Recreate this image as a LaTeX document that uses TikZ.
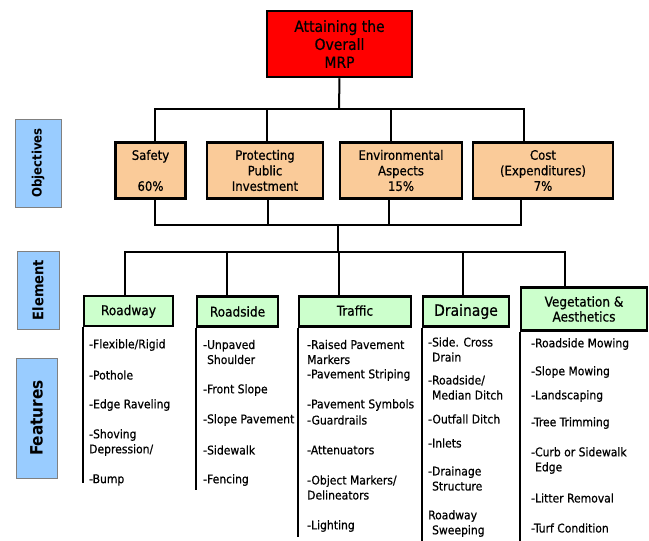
\documentclass[tikz,border=0pt]{standalone}
\usepackage{fontspec}
\setmainfont{DejaVu Sans Condensed}[UprightFeatures={FakeBold=0.6}]
\usepackage{tikz}
\usetikzlibrary{positioning, calc}

\definecolor{mrpred}{RGB}{255,0,0}
\definecolor{objorange}{RGB}{250,203,153}
\definecolor{elemgreen}{RGB}{204,255,204}
\definecolor{sideblue}{RGB}{153,204,255}

\begin{document}
\begin{tikzpicture}[x=1pt, y=-1pt,
    mrpnode/.style={draw=black, line width=2.5pt, fill=mrpred, align=center, minimum width=145pt, minimum height=66pt, inner sep=0pt, font=\fontsize{15.5}{18}\selectfont},
    objnode/.style={draw=black, line width=2.5pt, fill=objorange, align=center, minimum height=56pt, inner sep=0pt, font=\fontsize{13}{15.5}\selectfont},
    elemnode/.style={draw=black, line width=2.5pt, fill=elemgreen, align=center, minimum height=30pt, inner sep=0pt, font=\fontsize{13.5}{15}\selectfont},
    sidenode/.style={draw=gray, line width=0.8pt, fill=sideblue, rotate=90, inner sep=0pt},
    featnode/.style={anchor=west, align=left, inner sep=0pt, font=\fontsize{12}{15}\selectfont},
    link/.style={line width=2pt},
    featline/.style={line width=2pt}
]
\useasboundingbox (0,0) rectangle (649,541);

\node[mrpnode](mrp) at (339.5,44){Attaining the\\Overall\\MRP};

\node[objnode, minimum width=70pt](safety) at (150.5,170.5){Safety\\~\\60\%};
\node[objnode, minimum width=116pt](protect) at (265,170.5){Protecting\\Public\\Investment};
\node[objnode, minimum width=122pt](environ) at (401,170.5){Environmental\\Aspects\\15\%};
\node[objnode, minimum width=140pt](cost) at (543,170.5){Cost\\(Expenditures)\\7\%};

\node[elemnode, minimum width=89pt, text depth=2pt](roadway) at (128.5,311){Roadway};
\node[elemnode, minimum width=81pt](roadside) at (237.5,311.5){Roadside};
\node[elemnode, minimum width=112pt, text depth=2pt](traffic) at (355,311.5){Traffic};
\node[elemnode, minimum width=86pt, font=\fontsize{15.5}{17}\selectfont](drainage) at (466,311.5){Drainage};
\node[elemnode, minimum width=126pt, minimum height=43pt](veget) at (584,309){Vegetation \&\\Aesthetics};

\node[sidenode, minimum width=88pt, minimum height=46pt, font=\bfseries\fontsize{13}{15}\selectfont](objlabel) at (38,163){Objectives};
\node[sidenode, minimum width=78pt, minimum height=42pt, font=\bfseries\fontsize{14.5}{16}\selectfont](elemlabel) at (38,290){Element};
\node[sidenode, minimum width=120pt, minimum height=41pt, font=\bfseries\fontsize{17}{19}\selectfont](featlabel) at (36.5,418){Features};

\coordinate (topbar) at (339,109);
\coordinate (midbar) at (338,225);
\coordinate (elembar) at (338,252);

\draw[link] (mrp.south) -- (topbar);
\draw[link] ([xshift=4.5pt]safety.north) |- (topbar);
\draw[link] ([xshift=2pt]protect.north) |- (topbar);
\draw[link] ([xshift=-10pt]environ.north) |- (topbar);
\draw[link] ([xshift=-19pt]cost.north) |- (topbar);

\draw[link] ([xshift=4.5pt]safety.south) |- (midbar);
\draw[link] ([xshift=3pt]protect.south) |- (midbar);
\draw[link] ([xshift=-12pt]environ.south) |- (midbar);
\draw[link] ([xshift=-22pt]cost.south) |- (midbar);
\draw[link] (midbar) -- (elembar);

\draw[link] ([xshift=-3.5pt]roadway.north) |- (elembar);
\draw[link] ([xshift=-10.5pt]roadside.north) |- (elembar);
\draw[link] ([xshift=-16pt]traffic.north) |- (elembar);
\draw[link] ([xshift=-3pt]drainage.north) |- (elembar);
\draw[link] ([xshift=-19pt]veget.north) |- (elembar);

\draw[featline] (roadway.south west) -- ++(0,156);
\draw[featline] (roadside.south west) -- ++(0,162);
\draw[featline] (traffic.south west) -- ++(0,209);
\draw[featline] (drainage.south west) -- ++(0,213);
\draw[featline] (veget.south west) -- ++(0,210);

\node[featnode](r1) at (89,345){-Flexible/Rigid};
\node[featnode](r2) at (89,375){-Pothole};
\node[featnode](r3) at (89,405){-Edge Raveling};
\node[featnode](r4) at (89,442.5){-Shoving\\Depression/};
\node[featnode](r5) at (89,480){-Bump};

\node[featnode](s1) at (203,352){-Unpaved\\\phantom{-}Shoulder};
\node[featnode](s2) at (203,390){-Front Slope};
\node[featnode](s3) at (203,420){-Slope Pavement};
\node[featnode](s4) at (203,450){-Sidewalk};
\node[featnode](s5) at (203,480){-Fencing};

\node[featnode](t1) at (307,352){-Raised Pavement\\Markers};
\node[featnode](t2) at (307,375){-Pavement Striping};
\node[featnode](t3) at (307,405){-Pavement Symbols};
\node[featnode](t4) at (307,420){-Guardrails};
\node[featnode](t5) at (307,450){-Attenuators};
\node[featnode](t6) at (307,487.5){-Object Markers/\\Delineators};
\node[featnode](t7) at (307,526){-Lighting};

\node[featnode](d1) at (428,349.5){-Side. Cross\\\phantom{-}Drain};
\node[featnode](d2) at (428,387.5){-Roadside/\\\phantom{-}Median Ditch};
\node[featnode](d3) at (428,419){-Outfall Ditch};
\node[featnode](d4) at (428,443){-Inlets};
\node[featnode](d5) at (428,478.5){-Drainage\\\phantom{-}Structure};
\node[featnode](d6) at (428,523.5){Roadway\\\phantom{-}Sweeping};

\node[featnode](v1) at (531,344){-Roadside Mowing};
\node[featnode](v2) at (531,372){-Slope Mowing};
\node[featnode](v3) at (531,396){-Landscaping};
\node[featnode](v4) at (531,423){-Tree Trimming};
\node[featnode](v5) at (531,460.5){-Curb or Sidewalk\\\phantom{-}Edge};
\node[featnode](v6) at (531,498){-Litter Removal};
\node[featnode](v7) at (531,528){-Turf Condition};
\end{tikzpicture}
\end{document}
